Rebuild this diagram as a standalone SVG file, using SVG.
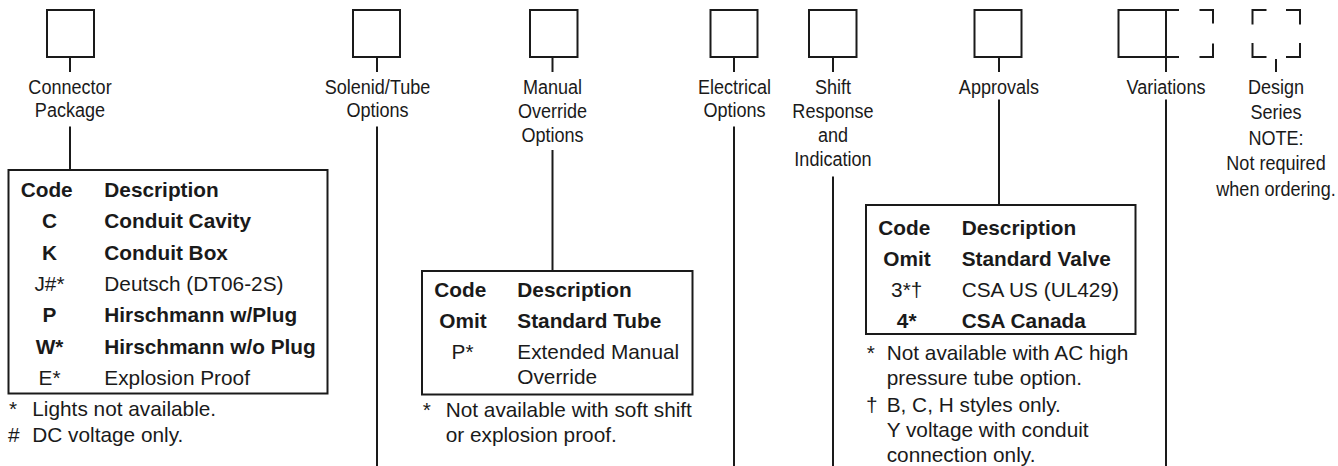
<svg xmlns="http://www.w3.org/2000/svg" width="1338" height="466" viewBox="0 0 1338 466">
<style>
.box{fill:none;stroke:#1a1a1a;stroke-width:2}
.ln{fill:none;stroke:#1a1a1a;stroke-width:2}
.lbl{font-family:"Liberation Sans",Arial,sans-serif;font-size:21px;fill:#1a1a1a;text-anchor:middle}
.t{font-family:"Liberation Sans",Arial,sans-serif;font-size:20.8px;fill:#1a1a1a}
.b{font-weight:bold}
.c{text-anchor:middle}
</style>
<rect width="1338" height="466" fill="#ffffff"/>

<g id="connectors">
  <line class="ln" x1="70" y1="57" x2="70" y2="72"/>
  <line class="ln" x1="70" y1="126.5" x2="70" y2="170"/>
  <line class="ln" x1="377" y1="57" x2="377" y2="72"/>
  <line class="ln" x1="377" y1="126.5" x2="377" y2="466"/>
  <line class="ln" x1="552.5" y1="57" x2="552.5" y2="72"/>
  <line class="ln" x1="552.5" y1="150" x2="552.5" y2="271"/>
  <line class="ln" x1="734" y1="57" x2="734" y2="72"/>
  <line class="ln" x1="734" y1="126.5" x2="734" y2="466"/>
  <line class="ln" x1="833" y1="57" x2="833" y2="72"/>
  <line class="ln" x1="833" y1="176.5" x2="833" y2="466"/>
  <line class="ln" x1="999" y1="57" x2="999" y2="72"/>
  <line class="ln" x1="999" y1="99.5" x2="999" y2="205"/>
  <line class="ln" x1="1166" y1="57" x2="1166" y2="72"/>
  <line class="ln" x1="1166" y1="99.5" x2="1166" y2="466"/>
  <line class="ln" x1="1276" y1="59" x2="1276" y2="72"/>
</g>

<g id="connector-package">
  <rect class="box" x="47" y="10" width="47" height="47"/>
  <text class="lbl" transform="matrix(0.86 0 0 1 70 0)"><tspan x="0" y="94">Connector</tspan><tspan x="0" y="117.5">Package</tspan></text>
  <rect class="box" x="8.5" y="170" width="319" height="223.5"/>
  <text class="t b" x="20.7" y="197">Code</text>
  <text class="t b" x="104.3" y="197">Description</text>
  <text class="t b c" x="49.5" y="228.3">C</text>
  <text class="t b" x="104.3" y="228.3">Conduit Cavity</text>
  <text class="t b c" x="49.5" y="259.6">K</text>
  <text class="t b" x="104.3" y="259.6">Conduit Box</text>
  <text class="t c" x="49.5" y="290.9">J#*</text>
  <text class="t" x="104.3" y="290.9">Deutsch (DT06-2S)</text>
  <text class="t b c" x="49.5" y="322.2">P</text>
  <text class="t b" x="104.3" y="322.2">Hirschmann w/Plug</text>
  <text class="t b c" x="49.5" y="353.5">W*</text>
  <text class="t b" x="104.3" y="353.5">Hirschmann w/o Plug</text>
  <text class="t c" x="49.5" y="384.8">E*</text>
  <text class="t" x="104.3" y="384.8">Explosion Proof</text>
  <text class="t" x="9" y="415.7">*</text>
  <text class="t" x="32.3" y="415.7">Lights not available.</text>
  <text class="t" x="8" y="441.7">#</text>
  <text class="t" x="32.3" y="441.7">DC voltage only.</text>
</g>

<g id="solenoid-tube-options">
  <rect class="box" x="353" y="10" width="47" height="47"/>
  <text class="lbl" transform="matrix(0.86 0 0 1 377.5 0)"><tspan x="0" y="94">Solenid/Tube</tspan><tspan x="0" y="117.5">Options</tspan></text>
</g>

<g id="manual-override-options">
  <rect class="box" x="530" y="10" width="47.5" height="47"/>
  <text class="lbl" transform="matrix(0.86 0 0 1 552.5 0)"><tspan x="0" y="94">Manual</tspan><tspan x="0" y="118">Override</tspan><tspan x="0" y="142">Options</tspan></text>
  <rect class="box" x="422" y="271" width="270.5" height="123.5"/>
  <text class="t b" x="434.3" y="296.7">Code</text>
  <text class="t b" x="517.3" y="296.7">Description</text>
  <text class="t b c" x="463" y="327.5">Omit</text>
  <text class="t b" x="517.3" y="327.5">Standard Tube</text>
  <text class="t c" x="462.5" y="359">P*</text>
  <text class="t" x="517.3" y="359">Extended Manual</text>
  <text class="t" x="517.3" y="384">Override</text>
  <text class="t" x="422.7" y="416.7">*</text>
  <text class="t" x="445.7" y="416.7">Not available with soft shift</text>
  <text class="t" x="445.7" y="441.7">or explosion proof.</text>
</g>

<g id="electrical-options">
  <rect class="box" x="710.5" y="10" width="47" height="47"/>
  <text class="lbl" transform="matrix(0.86 0 0 1 734.5 0)"><tspan x="0" y="94">Electrical</tspan><tspan x="0" y="117.5">Options</tspan></text>
</g>

<g id="shift-response">
  <rect class="box" x="809" y="10" width="47.5" height="47"/>
  <text class="lbl" transform="matrix(0.86 0 0 1 833 0)"><tspan x="0" y="94">Shift</tspan><tspan x="0" y="118">Response</tspan><tspan x="0" y="142">and</tspan><tspan x="0" y="166.5">Indication</tspan></text>
</g>

<g id="approvals">
  <rect class="box" x="974.5" y="10" width="47" height="47"/>
  <text class="lbl" transform="matrix(0.86 0 0 1 999 0)"><tspan x="0" y="94">Approvals</tspan></text>
  <rect class="box" x="866" y="205" width="269.5" height="129"/>
  <text class="t b" x="878.3" y="235">Code</text>
  <text class="t b" x="961.7" y="235">Description</text>
  <text class="t b c" x="907" y="266">Omit</text>
  <text class="t b" x="961.7" y="266">Standard Valve</text>
  <text class="t c" x="906.7" y="297">3*†</text>
  <text class="t" x="961.7" y="297">CSA US (UL429)</text>
  <text class="t b c" x="906.7" y="328.3">4*</text>
  <text class="t b" x="961.7" y="328.3">CSA Canada</text>
  <text class="t" x="866.7" y="360">*</text>
  <text class="t" x="886.7" y="360">Not available with AC high</text>
  <text class="t" x="886.7" y="385">pressure tube option.</text>
  <text class="t" x="866" y="411.7">†</text>
  <text class="t" x="886.7" y="411.7">B, C, H styles only.</text>
  <text class="t" x="886.7" y="436.7">Y voltage with conduit</text>
  <text class="t" x="886.7" y="461.7">connection only.</text>
</g>

<g id="variations">
  <rect class="box" x="1118.5" y="10" width="47.5" height="47"/>
  <path class="ln" d="M1166,10 H1179 M1199.5,10 H1213 V23.5 M1213,43.5 V57 H1199.5 M1179,57 H1166"/>
  <text class="lbl" transform="matrix(0.86 0 0 1 1166 0)"><tspan x="0" y="94">Variations</tspan></text>
</g>

<g id="design-series">
  <path class="ln" d="M1252.5,24.5 V10 H1266.5 M1286,10 H1300 V24.5 M1300,43 V57 H1286 M1266.5,57 H1252.5 V43"/>
  <text class="lbl" transform="matrix(0.86 0 0 1 1276 0)"><tspan x="0" y="94">Design</tspan><tspan x="0" y="119.5">Series</tspan><tspan x="0" y="145">NOTE:</tspan><tspan x="0" y="170.5">Not required</tspan><tspan x="0" y="196">when ordering.</tspan></text>
</g>
</svg>
